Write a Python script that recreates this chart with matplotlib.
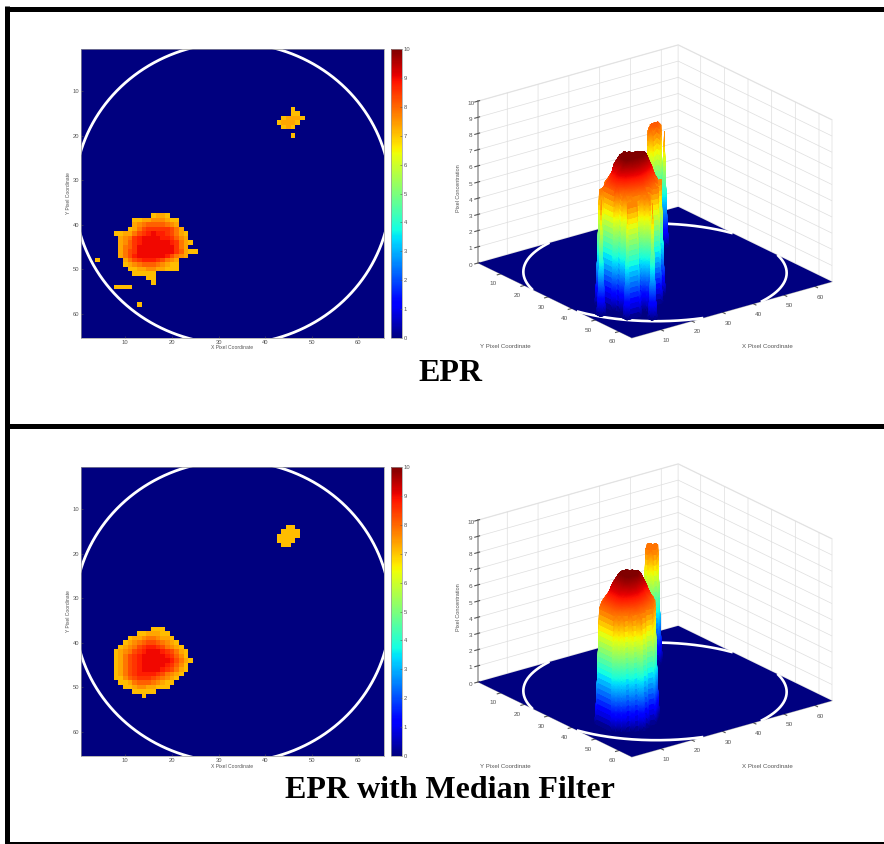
import matplotlib
matplotlib.use('Agg')
import matplotlib.pyplot as plt
import numpy as np
from matplotlib.lines import Line2D
from mpl_toolkits.mplot3d import proj3d
from mpl_toolkits.mplot3d.art3d import Poly3DCollection

plt.rcParams['font.family'] = ['Liberation Sans', 'DejaVu Sans']
plt.rcParams['grid.color'] = '#dedede'
plt.rcParams['grid.linewidth'] = 0.5

W, H = 884, 844

# grid cells: '.' is 0, a digit n is 7.1 + 0.24 * n
top_big_rows = [
    "............0110.......",
    "........0011222100.....",
    "........1234444321.....",
    ".......013566666531....",
    "....0011356787765310...",
    ".....123678888776421...",
    ".....1246788888876310..",
    ".....134688888888631...",
    ".....13568888888864100.",
    ".....135788888875321...",
    "0.....135677765321.....",
    "......012344432100.....",
    ".......00112211000.....",
    "........00000..........",
    "...........00..........",
    "............0..........",
    "....0000...............",
    ".......................",
    ".......................",
    ".......................",
    ".........0.............",
]
top_big_origin = (4, 38)      # column, row of the first character
top_small_rows = [
    "...0..",
    "...00.",
    ".01110",
    "01110.",
    ".010..",
    "......",
    "...0..",
]
top_small_origin = (43, 14)

low_big_rows = [
    "........000......",
    ".....0011100.....",
    "...0112332110....",
    "..012345543210...",
    ".01235677653210..",
    "0123567888765310.",
    "0135678888876420.",
    "01356788888875310",
    "0135678888876420.",
    "0135678888765310.",
    "013567777653210..",
    "00245666543210...",
    ".001344432100....",
    "..0012211000.....",
    "....00000........",
    "......0..........",
]
low_big_origin = (8, 37)
low_small_rows = [
    "..00.",
    ".0000",
    "00000",
    "0000.",
    ".00..",
]
low_small_origin = (43, 14)

grid_size = 65
ring_center = (33.0, 33.0)
ring_radius = 33.9
ticks_xy = [10, 20, 30, 40, 50, 60]
ticks_z = [0, 1, 2, 3, 4, 5, 6, 7, 8, 9, 10]

fig = plt.figure(figsize=(W / 100, H / 100), dpi=100, facecolor='white')


def px_rect(left, top, right, bottom):
    return [left / W, 1 - bottom / H, (right - left) / W, (bottom - top) / H]


def to_grid(rows, origin):
    col0, row0 = origin
    grid = np.zeros((len(rows), len(rows[0])))
    for r, line in enumerate(rows):
        for c, ch in enumerate(line):
            if ch != '.':
                grid[r, c] = 7.1 + 0.24 * int(ch)
    full = np.zeros((grid_size, grid_size))
    full[row0 - 1:row0 - 1 + grid.shape[0], col0 - 1:col0 - 1 + grid.shape[1]] = grid
    return full


def draw_heatmap(top, data):
    ax = fig.add_axes(px_rect(81, top, 384, top + 289))
    im = ax.imshow(data, cmap='jet', vmin=0, vmax=10, aspect='auto',
                   interpolation='nearest',
                   extent=(0.5, grid_size + 0.5, grid_size + 0.5, 0.5))
    t = np.linspace(0, 2 * np.pi, 500)
    ax.plot(ring_center[0] + ring_radius * np.cos(t),
            ring_center[1] + ring_radius * np.sin(t), color='white', lw=2.0)
    ax.set_xlim(0.5, grid_size + 0.5)
    ax.set_ylim(grid_size + 0.5, 0.5)
    ax.set_xticks(ticks_xy)
    ax.set_yticks(ticks_xy)
    ax.tick_params(labelsize=4.2, length=1.5, width=0.4, pad=1.5,
                   direction='in', colors='#555555')
    for s in ax.spines.values():
        s.set_color('#999999')
        s.set_linewidth(0.5)
    fig.text(232 / W, 1 - (top + 299) / H, 'X Pixel Coordinate', fontsize=3.6,
             color='#555555', ha='center', va='center')
    fig.text(69 / W, 1 - (top + 144) / H, 'Y Pixel Coordinate', fontsize=3.6,
             color='#555555', ha='center', va='center', rotation=90)
    cax = fig.add_axes(px_rect(391, top, 402, top + 289))
    cb = fig.colorbar(im, cax=cax, ticks=ticks_z)
    cb.ax.tick_params(labelsize=4.2, length=1.2, width=0.4, pad=1,
                      direction='in', colors='#555555')
    cb.outline.set_edgecolor('#999999')
    cb.outline.set_linewidth(0.5)


def add_blob(ax, data, zorder, peak, steps=22):
    # fine vertices inside the blob box so the walls get interp-like shading
    rows, cols = np.nonzero(data)
    r0, r1 = max(rows.min() - 1, 0), min(rows.max() + 1, grid_size - 1)
    c0, c1 = max(cols.min() - 1, 0), min(cols.max() + 1, grid_size - 1)
    sub = data[r0:r1 + 1, c0:c1 + 1]
    rr = np.linspace(0, sub.shape[0] - 1, (sub.shape[0] - 1) * steps + 1)
    cc = np.linspace(0, sub.shape[1] - 1, (sub.shape[1] - 1) * steps + 1)
    ri = np.minimum(rr.astype(int), sub.shape[0] - 2)
    ci = np.minimum(cc.astype(int), sub.shape[1] - 2)
    fr = (rr - ri)[:, None]
    fc = (cc - ci)[None, :]
    z = (sub[ri][:, ci] * (1 - fr) * (1 - fc) + sub[ri][:, ci + 1] * (1 - fr) * fc
         + sub[ri + 1][:, ci] * fr * (1 - fc) + sub[ri + 1][:, ci + 1] * fr * fc)
    xg, yg = np.meshgrid(cc + c0 + 1, rr + r0 + 1)
    quads = np.stack([
        np.stack([xg[:-1, :-1], yg[:-1, :-1], z[:-1, :-1]], -1),
        np.stack([xg[:-1, 1:], yg[:-1, 1:], z[:-1, 1:]], -1),
        np.stack([xg[1:, 1:], yg[1:, 1:], z[1:, 1:]], -1),
        np.stack([xg[1:, :-1], yg[1:, :-1], z[1:, :-1]], -1),
    ], axis=2)
    quads = quads.reshape(-1, 4, 3)
    keep = quads[:, :, 2].max(axis=1) > 0.01
    quads = quads[keep]
    colors = plt.cm.jet(quads[:, :, 2].mean(axis=1) / peak)
    coll = Poly3DCollection(quads, facecolors=colors, edgecolors=colors,
                            linewidths=0.25, zorder=zorder)
    ax.add_collection3d(coll)


def draw_surface(top, big, small, label_y):
    ax = fig.add_axes([0.5, 0.5, 0.45, 0.45], projection='3d', proj_type='ortho',
                      computed_zorder=False)
    ax.patch.set_alpha(0)
    ax.view_init(elev=21.7, azim=-127.2)
    ax.set_box_aspect((251, 254, 174))
    lo, hi = 0.5, grid_size + 0.5
    ax.set_xlim(lo, hi, view_margin=0)
    ax.set_ylim(hi, lo, view_margin=0)
    ax.set_zlim(0, 10, view_margin=0)

    corner = np.array([lo, hi])
    xf, yf = np.meshgrid(corner, corner)
    ax.plot_surface(xf, yf, np.zeros((2, 2)), color=plt.cm.jet(0.0), shade=False,
                    linewidth=0, zorder=1)

    t = np.linspace(0, 2 * np.pi, 700)
    rx = ring_center[0] + ring_radius * np.cos(t)
    ry = ring_center[1] + ring_radius * np.sin(t)
    outside = (rx < lo) | (rx > hi) | (ry < lo) | (ry > hi)
    rx[outside] = np.nan
    ry[outside] = np.nan
    ax.plot(rx, ry, np.zeros_like(rx), color='white', lw=1.9, zorder=2)

    ax.set_xticks(ticks_xy)
    ax.set_yticks(ticks_xy)
    ax.set_zticks(ticks_z)
    ax.tick_params(labelsize=4.6, colors='#555555', pad=-3)
    ax.tick_params(axis='z', pad=-5)
    for axis in (ax.xaxis, ax.yaxis, ax.zaxis):
        axis.set_pane_color((1, 1, 1, 1))
        axis.pane.set_edgecolor('#eeeeee')
        axis.line.set_color('#b0b0b0')
        axis.line.set_linewidth(0.6)
    ax.zaxis.line.set_linewidth(1.4)

    fig.text(505 / W, 1 - label_y / H, 'Y Pixel Coordinate', fontsize=4.4,
             color='#555555', ha='center', va='center')
    fig.text(767 / W, 1 - label_y / H, 'X Pixel Coordinate', fontsize=4.4,
             color='#555555', ha='center', va='center')
    fig.text(458 / W, 1 - (label_y - 159) / H, 'Pixel Concentration', fontsize=4.0,
             color='#555555', ha='center', va='center', rotation=90)

    # move the axes so the floor corners land where they are in the picture
    left_target = np.array([478.0, top + 263.0])
    right_target = np.array([832.0, top + 282.0])
    for _ in range(3):
        fig.canvas.draw()
        m = ax.get_proj()
        a = ax.transData.transform(proj3d.proj_transform(lo, lo, 0, m)[:2])
        b = ax.transData.transform(proj3d.proj_transform(hi, hi, 0, m)[:2])
        a = np.array([a[0], H - a[1]])
        b = np.array([b[0], H - b[1]])
        scale = (right_target[0] - left_target[0]) / (b[0] - a[0])
        bb = ax.get_position()
        size = bb.width * W * scale
        cx = bb.x0 * W + bb.width * W / 2
        cy = H - (bb.y0 * H + bb.height * H / 2)
        cx = left_target[0] + (cx - a[0]) * scale
        cy = left_target[1] + (cy - a[1]) * scale
        ax.set_position([(cx - size / 2) / W, 1 - (cy + size / 2) / H, size / W, size / H])

    peak = big.max()
    add_blob(ax, small, 3, peak)
    add_blob(ax, big, 4, peak)


top_heat = to_grid(top_big_rows, top_big_origin) + to_grid(top_small_rows, top_small_origin)
low_heat = to_grid(low_big_rows, low_big_origin) + to_grid(low_small_rows, low_small_origin)

draw_surface(0, to_grid(top_big_rows, top_big_origin), to_grid(top_small_rows, top_small_origin), 347)
draw_surface(419, to_grid(low_big_rows, low_big_origin), to_grid(low_small_rows, low_small_origin), 766)
draw_heatmap(49, top_heat)
draw_heatmap(467, low_heat)

fig.text(450 / W, 1 - 373 / H, 'EPR', family='Liberation Serif', fontweight='bold',
         fontsize=23, ha='center', va='center', color='black')
fig.text(450 / W, 1 - 791 / H, 'EPR with Median Filter', family='Liberation Serif',
         fontweight='bold', fontsize=23, ha='center', va='center', color='black')

# frame of the two panels
for xs, ys, lw in [((7.5, 7.5), (6, 844), 3.6), ((5, W), (8.5, 8.5), 3.6),
                   ((5, W), (426.5, 426.5), 3.6), ((5, W), (843, 843), 1.44)]:
    fig.add_artist(Line2D([x / W for x in xs], [1 - y / H for y in ys],
                          color='black', lw=lw, solid_capstyle='butt'))

fig.savefig('out.png', dpi=100)
plt.close(fig)
